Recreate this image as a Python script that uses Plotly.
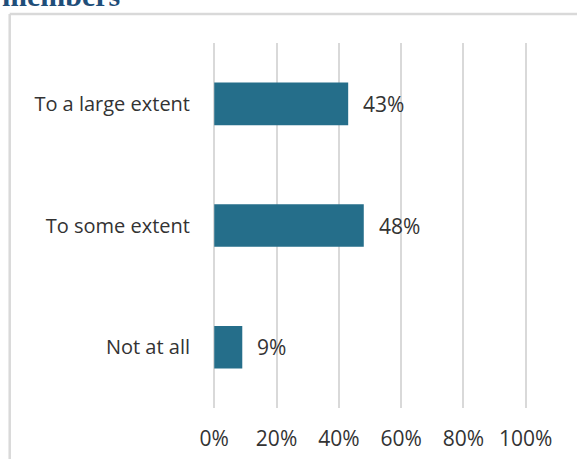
import plotly.graph_objects as go

categories = ["To a large extent", "To some extent", "Not at all"]
values = [0.43, 0.48, 0.09]
tick_vals = [0, 0.2, 0.4, 0.6, 0.8, 1.0]
tick_text = ["0%", "20%", "40%", "60%", "80%", "100%"]
title_text = "members"

W, H = 577, 459
L, R, T, B = 213.3, 527.3, 43, 408
pw, ph = R - L, B - T
XMIN, XMAX = -0.004, 1.004

def px_x(px):
    return (px - L) / pw

def px_y(py):
    return (B - py) / ph

font = "Open Sans, Liberation Sans, sans-serif"
txt_color = "#333333"

fig = go.Figure()
fig.add_trace(go.Bar(
    x=values, y=categories, orientation="h",
    marker=dict(color="#256E8A", line=dict(width=0)),
    width=0.35,
    hoverinfo="skip",
))

for c, v in zip(categories, values):
    fig.add_annotation(x=v, y=c, xref="x", yref="y", text=f"{round(v*100)}%",
                       showarrow=False, xanchor="left", yanchor="middle", xshift=13,
                       font=dict(family=font, size=21, color=txt_color))

fig.add_annotation(x=px_x(0), y=px_y(14), xref="paper", yref="paper", text=f"<b>{title_text}</b>",
                   showarrow=False, xanchor="left", yanchor="bottom",
                   font=dict(family="Liberation Serif, serif", size=30, color="#1F4E79"))

border = dict(color="#d9d9d9", width=2.5)
fig.add_shape(type="line", xref="paper", yref="paper", x0=px_x(10), x1=px_x(600), y0=px_y(14), y1=px_y(14), line=border)
fig.add_shape(type="line", xref="paper", yref="paper", x0=px_x(10), x1=px_x(10), y0=px_y(14), y1=px_y(470), line=border)

fig.update_layout(
    width=W, height=H,
    margin=dict(l=L, r=W - R, t=T, b=H - B, autoexpand=False),
    paper_bgcolor="white", plot_bgcolor="white",
    showlegend=False,
    xaxis=dict(range=[XMIN, XMAX], tickvals=tick_vals, ticktext=tick_text, automargin=False,
               showgrid=True, gridcolor="#d9d9d9", gridwidth=2,
               zeroline=True, zerolinecolor="#d9d9d9", zerolinewidth=2,
               showline=False, ticks="outside", ticklen=12, tickcolor="rgba(0,0,0,0)",
               tickfont=dict(family=font, size=21, color=txt_color), fixedrange=True),
    yaxis=dict(categoryorder="array", categoryarray=categories[::-1], automargin=False,
               showgrid=False, zeroline=False, showline=False,
               ticks="outside", ticklen=18, tickcolor="rgba(0,0,0,0)",
               tickfont=dict(family=font, size=20, color=txt_color), fixedrange=True),
)

fig.write_html("out.html", config={"displayModeBar": False},
               post_script="document.body.style.margin='0';")
